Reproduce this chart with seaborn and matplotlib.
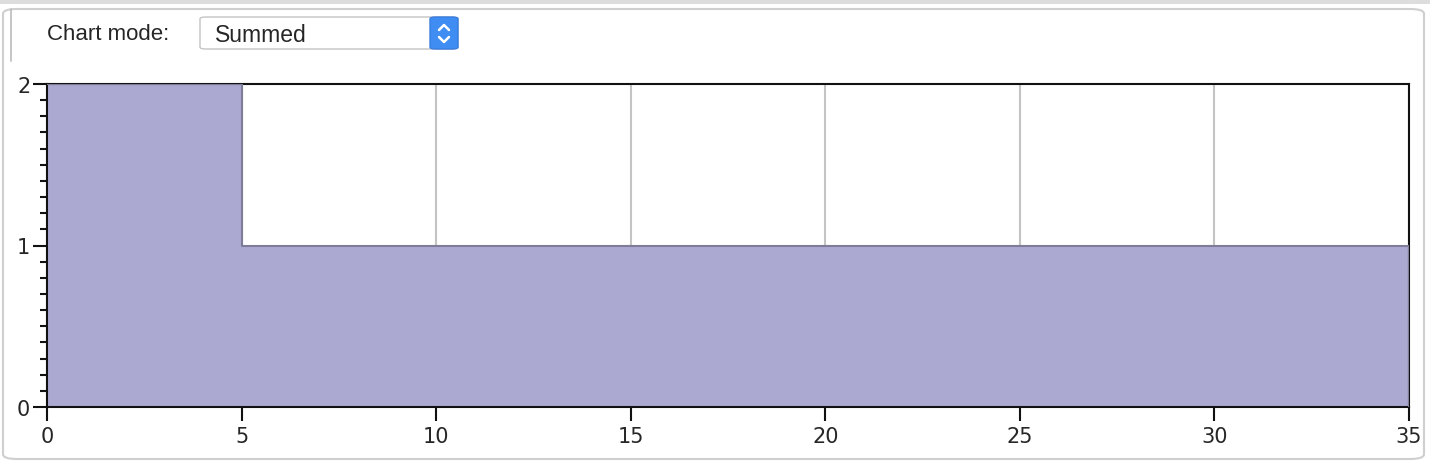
import numpy as np
import pandas as pd
import matplotlib
matplotlib.use('Agg')
import matplotlib.pyplot as plt
import seaborn as sns
from matplotlib.patches import FancyBboxPatch, Rectangle
from matplotlib.ticker import MultipleLocator

# step data (summed mode)
x_edges = [0, 5, 35]
y_vals = [2, 1, 1]
x_ticks = [0, 5, 10, 15, 20, 25, 30, 35]
y_ticks = [0, 1, 2]
mode_label = 'Chart mode:'
mode_value = 'Summed'

sns.set_style('white')
plt.rcParams['font.family'] = ['DejaVu Sans']

df = pd.DataFrame({'x': x_edges, 'y': y_vals})

W, H = 1430, 464
fig = plt.figure(figsize=(W / 100, H / 100), dpi=100)
fig.patch.set_facecolor('white')


def fx(px):
    return px / W


def fy(py):
    return 1 - py / H


# panel decoration
fig.add_artist(Rectangle((0, fy(5)), 1, 5 / H, transform=fig.transFigure,
                         facecolor='#dddddd', edgecolor='none'))
fig.add_artist(FancyBboxPatch((fx(3), fy(460)), 1421 / W, 450 / H,
                              boxstyle='round,pad=0,rounding_size=0.01',
                              transform=fig.transFigure, facecolor='none',
                              edgecolor='#cfcfcf', lw=1.5))
fig.add_artist(plt.Line2D([fx(11), fx(11)], [fy(10), fy(62)],
                          transform=fig.transFigure, color='#bbbbbb', lw=1.2))

# "Chart mode" control
fig.text(fx(47), fy(35), mode_label, fontsize=16, va='center', ha='left',
         family='Liberation Sans')
fig.add_artist(FancyBboxPatch((fx(200), fy(50)), 258 / W, 32 / H,
                              boxstyle='round,pad=0,rounding_size=0.004',
                              transform=fig.transFigure, facecolor='white',
                              edgecolor='#c4c4c4', lw=1))
fig.add_artist(FancyBboxPatch((fx(430), fy(50)), 28 / W, 32 / H,
                              boxstyle='round,pad=0,rounding_size=0.004',
                              transform=fig.transFigure, facecolor='#3f8cf2',
                              edgecolor='#3a7fe0', lw=1))
fig.text(fx(215), fy(35), mode_value, fontsize=16.5, va='center', ha='left',
         family='Liberation Sans')
for pts in ([(439, 31), (444, 26), (449, 31)], [(439, 38), (444, 43), (449, 38)]):
    fig.add_artist(plt.Line2D([fx(p[0]) for p in pts], [fy(p[1]) for p in pts],
                              transform=fig.transFigure, color='white', lw=1.8,
                              solid_capstyle='round', solid_joinstyle='round'))

ax = fig.add_axes([fx(47), fy(408), 1362 / W, 323 / H])

ax.fill_between(df['x'], df['y'], step='post', color='#aba9d1', lw=0, zorder=2)
sns.lineplot(data=df, x='x', y='y', drawstyle='steps-post', color='#7e7d99',
             lw=1.5, ax=ax, zorder=3)
ax.plot([x_edges[-1], x_edges[-1]], [0, y_vals[-1]], color='#7e7d99', lw=1.5, zorder=3)

ax.set_xlim(0, 35)
ax.set_ylim(0, 2)
ax.set_xticks(x_ticks)
ax.set_yticks(y_ticks)
ax.yaxis.set_minor_locator(MultipleLocator(0.1))
ax.grid(axis='x', color='#c4c4c4', lw=1.5, zorder=1)
ax.set_axisbelow(True)
ax.set_xlabel('')
ax.set_ylabel('')

for s in ax.spines.values():
    s.set_color('#111111')
    s.set_linewidth(1.5)

ax.tick_params(axis='x', which='major', length=10, width=1.5, direction='out',
               labelsize=15, pad=4, color='#111111', bottom=True)
ax.tick_params(axis='y', which='major', length=10, width=1.5, direction='out',
               labelsize=15, pad=2, color='#111111', left=True)
ax.tick_params(axis='y', which='minor', length=5, width=1.5, direction='out',
               color='#111111', left=True)

fig.savefig('out.png', dpi=100)
